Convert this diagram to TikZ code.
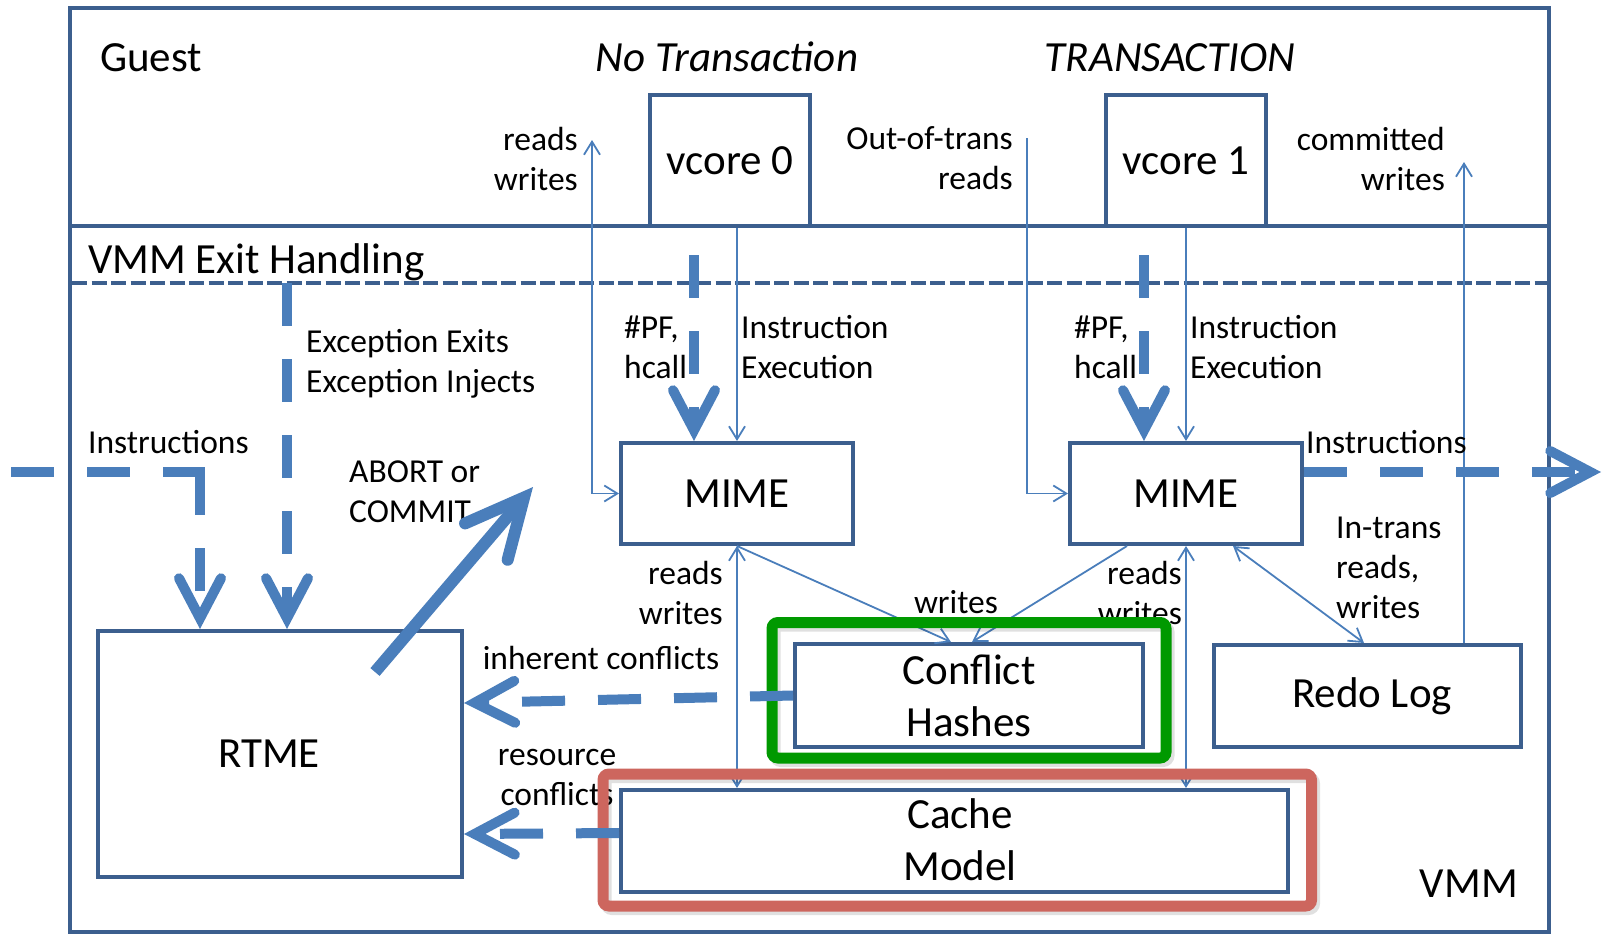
\documentclass[tikz,border=0pt]{standalone}
\usepackage{fontspec}
\setmainfont{Carlito}
\usetikzlibrary{arrows.meta}
\definecolor{frameblue}{RGB}{60,95,142}
\definecolor{flowblue}{RGB}{74,126,187}
\definecolor{hashgreen}{RGB}{0,153,0}
\definecolor{cachered}{RGB}{205,102,94}
\begin{document}
\begin{tikzpicture}[x=1pt,y=-1pt,
  big/.style={font=\fontsize{43}{52}\selectfont},
  bigit/.style={font=\fontsize{43}{52}\selectfont\itshape},
  small/.style={font=\fontsize{33.5}{40}\selectfont, inner sep=0pt},
  box/.style={draw=frameblue, line width=4pt, fill=white, inner sep=0pt, big, align=center},
  wire/.style={draw=flowblue, line width=1.8pt},
  oneway/.style={wire, -{Straight Barb[length=13pt,width=16pt]}},
  twoway/.style={wire, {Straight Barb[length=13pt,width=16pt]}-{Straight Barb[length=13pt,width=16pt]}},
  flowline/.style={draw=flowblue, line width=10pt, dash pattern=on 43pt off 33pt},
  flowdash/.style={flowline, -{Straight Barb[length=40pt,width=42pt,line cap=round,line join=miter]}},
  ring/.style={line width=11pt, rounded corners=6pt},
  ringshadow/.style={ring, draw=black, draw opacity=0.12}
]
\useasboundingbox (0,0) rectangle (1604,934);

% outer panel, guest/VMM split and exit-handling band
\draw[frameblue, line width=4pt] (70,8) rectangle (1549,932);
\draw[frameblue, line width=4pt] (70,226) -- (1549,226);
\draw[frameblue, line width=4pt, dash pattern=on 15pt off 4.5pt] (72,283) -- (1547,283);

% region titles
\node[big, inner sep=0pt, anchor=base west] (guest) at (100,72) {Guest};
\node[bigit, inner sep=0pt, anchor=base] (notrans) at (727,72) {No Transaction};
\node[bigit, inner sep=0pt, anchor=base] (trans) at (1170,72) {TRANSACTION};
\node[big, inner sep=0pt, anchor=base west] (exith) at (88,273) {VMM Exit Handling};
\node[big, inner sep=0pt, anchor=base east] (vmm) at (1518,897) {VMM};

% components
\node[box, minimum width=160pt, minimum height=131pt] (vcore0) at (730,160.5) {vcore 0};
\node[box, minimum width=160pt, minimum height=131pt] (vcore1) at (1186,160.5) {vcore 1};
\node[box, minimum width=232pt, minimum height=101pt] (mime1) at (737,493.5) {MIME};
\node[box, minimum width=232pt, minimum height=101pt] (mime2) at (1186,493.5) {MIME};
\node[box, minimum width=364pt, minimum height=246pt,
      label={[big,xshift=-11pt]center:RTME}] (rtme) at (280,754) {};
\node[box, minimum width=348pt, minimum height=103pt] (hashes) at (969,695.5) {Conflict\\Hashes};
\node[box, minimum width=667pt, minimum height=102pt,
      label={[big,align=center,xshift=5.5pt,yshift=1pt]center:Cache\\Model}] (cache) at (954.5,841) {};
\node[box, minimum width=307pt, minimum height=102pt,
      label={[big,xshift=4.5pt]center:Redo Log}] (redo) at (1367.5,696) {};

% memory traffic
\coordinate (rw0) at (592,140);
\coordinate (oot) at (1027,138);
\coordinate (cw) at (1464,162);
\draw[twoway] (rw0) |- (mime1.west);
\draw[oneway] (mime1.north |- vcore0.south) -- (mime1.north);
\draw[oneway] (oot) |- (mime2.west);
\draw[oneway] (mime2.north |- vcore1.south) -- (mime2.north);
\draw[oneway] (redo.north -| cw) -- (cw);
\draw[twoway] (mime1.south) -- (mime1.south |- cache.north);
\draw[oneway] (mime1.south) -- ([xshift=-18pt]hashes.north);
\draw[oneway] ([xshift=-59pt]mime2.south) -- ([xshift=3pt]hashes.north);
\draw[twoway] (mime2.south) -- (mime2.south |- cache.north);
\draw[twoway] ([xshift=47pt]mime2.south) -- ([xshift=-3.5pt]redo.north);

% labels
\node[small, align=right, anchor=east] (lrw0) at (578,158.5) {reads\\writes};
\node[small, align=right, anchor=east] (loot) at (1013,158.5) {Out-of-trans\\reads};
\node[small, align=right, anchor=east] (lcw) at (1445,158.5) {committed\\writes};
\node[small, align=left, anchor=west] (lpf0) at (624,347) {\#PF,\\hcall};
\node[small, align=left, anchor=west] (lie0) at (741,347) {Instruction\\Execution};
\node[small, align=left, anchor=west] (lpf1) at (1074,347) {\#PF,\\hcall};
\node[small, align=left, anchor=west] (lie1) at (1190,347) {Instruction\\Execution};
\node[small, align=left, anchor=west] (lexc) at (306,364) {Exception Exits\\Exception Injects};
\node[small, anchor=base west] (linl) at (88,453) {Instructions};
\node[small, align=left, anchor=west] (labort) at (349,492) {ABORT or\\COMMIT};
\node[small, anchor=base west] (linr) at (1306,453) {Instructions};
\node[small, align=right, anchor=east] (lrw1) at (723,593) {reads\\writes};
\node[small, anchor=base] (lw) at (956,613) {writes};
\node[small, align=right, anchor=east] (lrw2) at (1182,593) {reads\\writes};
\node[small, align=left, anchor=west] (lint) at (1336,568) {In-trans\\reads,\\writes};
\node[small, anchor=base] (linh) at (601,669) {inherent conflicts};
\node[small, align=center] (lres) at (557,777) {resource\\conflicts};

% highlight rings
\draw[ringshadow] (775,626) rectangle (1169,761.5);
\draw[ring, draw=hashgreen] (772,622.5) rectangle (1166,758);
\draw[ringshadow] (606,777.5) rectangle (1314.5,909.5);
\draw[ring, draw=cachered] (603,774) rectangle (1311.5,906);

% control flow
\coordinate (instart) at (11,472);
\coordinate (inturn) at (200,472);
\coordinate (excstart) at (287,283);
\coordinate (pf0) at (694,255);
\coordinate (pf1) at (1144,255);
\coordinate (outend) at (1601,472);
\draw[flowline] (instart) -- ([xshift=5pt]inturn);
\draw[flowdash] (inturn) -- (inturn |- rtme.north);
\draw[flowdash] (excstart) -- (excstart |- rtme.north);
\draw[flowdash] (pf0) -- (pf0 |- mime1.north);
\draw[flowdash] (pf1) -- (pf1 |- mime2.north);
\draw[flowdash] (mime2.east |- outend) -- (outend);
\draw[flowdash] (hashes.west) -- ([yshift=51pt]rtme.east);
\draw[flowdash] ([yshift=8pt]cache.west) -- ([yshift=-80pt]rtme.east);

% transaction outcome
\coordinate (abfrom) at (375,672);
\coordinate (abto) at (533,487);
\draw[draw=flowblue, line width=12pt,
      -{Straight Barb[length=58pt,width=56pt,line cap=round,line join=miter]}] (abfrom) -- (abto);
\end{tikzpicture}
\end{document}
